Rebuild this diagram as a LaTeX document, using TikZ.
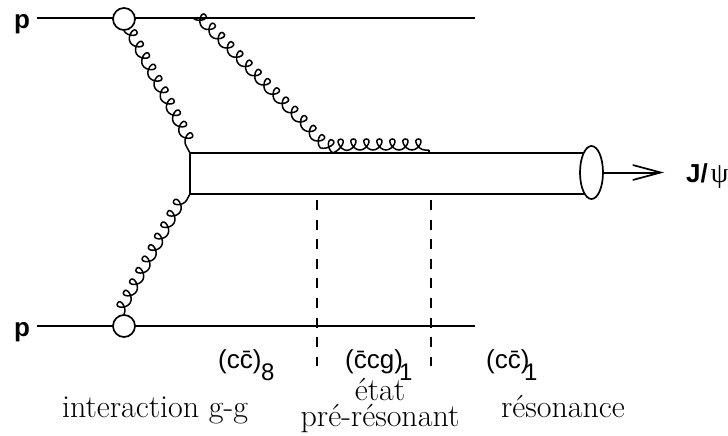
\documentclass[tikz,border=0pt]{standalone}
\usepackage{fontspec}
\setsansfont{Liberation Sans}
\newfontfamily\greekfont{Liberation Serif}
\usetikzlibrary{shapes.geometric,decorations.pathmorphing,arrows.meta}
\pgfdeclaredecoration{gluoncurl}{curl}{
  \state{curl}[width=13pt]{
    \pgfpathcurveto{\pgfqpoint{7pt}{0pt}}{\pgfqpoint{12.5pt}{11pt}}{\pgfqpoint{6.5pt}{11pt}}
    \pgfpathcurveto{\pgfqpoint{0.5pt}{11pt}}{\pgfqpoint{6pt}{0pt}}{\pgfqpoint{13pt}{0pt}}
  }
  \state{final}{\pgfpathlineto{\pgfpointdecoratedpathlast}}
}
\tikzset{
  line/.style={line width=2pt},
  gluon/.style={line width=1.5pt,decorate,decoration={gluoncurl}},
  blob/.style={circle,draw,fill=white,line width=1.7pt,minimum size=22pt,inner sep=0pt},
  cut/.style={line width=1.6pt,dash pattern=on 10pt off 9.6pt},
  statelab/.style={font=\sffamily\fontsize{26}{28}\selectfont,inner sep=0pt},
  sublab/.style={font=\sffamily\fontsize{24}{25}\selectfont,inner sep=0pt},
  serlab/.style={font=\fontsize{32}{25.5}\selectfont,inner sep=0pt,align=center},
  protonlab/.style={font=\sffamily\bfseries\fontsize{26}{28}\selectfont,inner sep=0pt}
}
\begin{document}
\begin{tikzpicture}[x=1pt,y=-1pt]
\useasboundingbox (0,0) rectangle (728,436);
% proton lines
\node[protonlab] (pt) at (22,24) {p};
\node[protonlab] (pb) at (22,332) {p};
\coordinate (ptl) at (37,18);
\coordinate (pbl) at (37,326);
\coordinate (ptr) at (475,18);
\coordinate (pbr) at (475,326);
\draw[line] (ptl) -- (ptr);
\draw[line] (pbl) -- (pbr);
\node[blob] (bt) at (124,19) {};
\node[blob] (bb) at (124,326) {};
% tube
\coordinate (tl) at (190,153);
\coordinate (bl) at (190,194);
\coordinate (tr) at (585,153);
\coordinate (br) at (585,194);
\draw[line] (tl) -- (tr);
\draw[line] (bl) -- (br);
\draw[line] (tl) -- (bl);
\node[ellipse,draw,fill=white,line width=1.7pt,minimum width=23pt,minimum height=53pt,inner sep=0pt] (ell) at (591.5,172.5) {};
% gluons
\coordinate (gs) at (193,18);
\coordinate (gk) at (298,124);
\coordinate (gm) at (335,150);
\coordinate (ge) at (429,150);
\coordinate (gf) at (429,153);
\draw[gluon] (bt.south) -- (tl);
\draw[gluon] (bb.north) -- (bl);
\draw[gluon] (gs) -- (gk) to[out=-45,in=180] (gm) -- (ge);
\draw[line width=1.5pt] (ge) -- (gf);
% J/psi
\coordinate (tip) at (664,172.5);
\draw[line,-{Straight Barb[length=28pt,width=15pt,line width=1.7pt]}] (ell) -- (tip);
\node[protonlab,anchor=base west] (jp) at (686,182) {J/{\greekfont\mdseries\fontsize{28}{29}\selectfont\kern3pt ψ}};
% cuts
\coordinate (ca) at (317,200);
\coordinate (cb) at (317,366);
\coordinate (cc) at (431,200);
\coordinate (cd) at (431,366);
\draw[cut] (ca) -- (cb);
\draw[cut] (cc) -- (cd);
% labels
\node[statelab,anchor=base west] (s8) at (218,368) {(c\=c)};
\node[sublab,anchor=base west] (n8) at (261,380) {8};
\node[statelab,anchor=base west] (s1) at (345,368) {(\=ccg)};
\node[sublab,anchor=base west] (n1) at (399,380) {1};
\node[statelab,anchor=base west] (r1) at (486,368) {(c\=c)};
\node[sublab,anchor=base west] (m1) at (524,380) {1};
\node[serlab,anchor=base] (lg) at (155,417) {interaction g-g};
\node[serlab,anchor=base] (le) at (380,426) {état\\pré-résonant};
\node[serlab,anchor=base] (lr) at (563,417) {résonance};
\end{tikzpicture}
\end{document}
